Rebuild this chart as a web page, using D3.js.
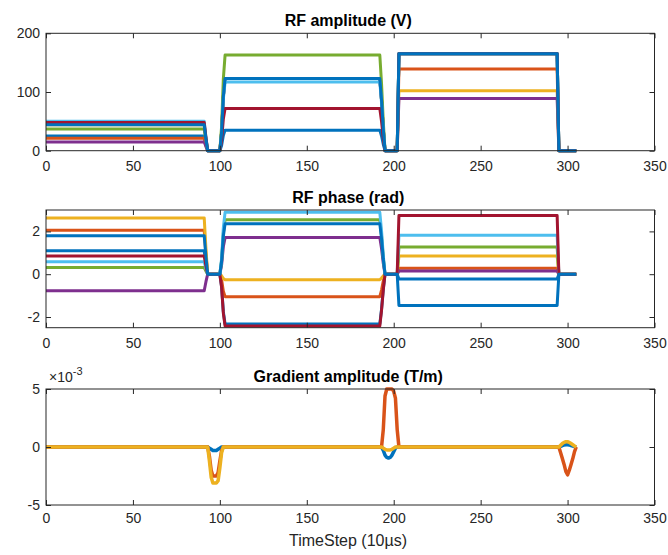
<!DOCTYPE html>
<html>
<head>
<meta charset="utf-8">
<script src="https://cdn.jsdelivr.net/npm/d3@7"></script>
<style>
  html, body { margin: 0; padding: 0; background: #ffffff; }
  svg { display: block; font-family: "Liberation Sans", Arial, sans-serif; }
</style>
</head>
<body>
<svg id="chart" width="668" height="555"></svg>
<script>
// ---- data ---------------------------------------------------------------
// Sample instants (time steps of 10 µs) at which the RF waveforms change
const timeSteps = [0, 91, 92, 93, 100, 101, 102, 103, 192, 193, 194, 195, 202, 203, 294, 295, 305];

// RF amplitude per transmit channel (V)
const rfAmp1 = [25, 25, 11, 0, 0, 9, 26, 35, 35, 25, 11, 0, 0, 165, 165, 0, 0];
const rfAmp2 = [21, 21, 9, 0, 0, 31, 92, 123, 123, 86, 37, 0, 0, 139, 139, 0, 0];
const rfAmp3 = [44, 44, 20, 0, 0, 31, 92, 123, 123, 86, 37, 0, 0, 102, 102, 0, 0];
const rfAmp4 = [15, 15, 7, 0, 0, 31, 92, 123, 123, 86, 37, 0, 0, 89, 89, 0, 0];
const rfAmp5 = [37, 37, 17, 0, 0, 41, 122, 163, 163, 114, 49, 0, 0, 165, 165, 0, 0];
const rfAmp6 = [50, 50, 22, 0, 0, 29, 88, 117, 117, 82, 35, 0, 0, 165, 165, 0, 0];
const rfAmp7 = [48, 48, 22, 0, 0, 18, 54, 72, 72, 50, 22, 0, 0, 165, 165, 0, 0];
const rfAmp8 = [44, 44, 20, 0, 0, 31, 92, 123, 123, 86, 37, 0, 0, 165, 165, 0, 0];

// RF phase per transmit channel (rad)
const rfPhase1 = [1.09, 1.09, 0.49, 0, 0, -0.58, -1.75, -2.33, -2.33, -1.63, -0.70, 0, 0, -0.23, -0.23, 0, 0];
const rfPhase2 = [2.05, 2.05, 0.92, 0, 0, -0.26, -0.79, -1.05, -1.05, -0.74, -0.32, 0, 0, 0.28, 0.28, 0, 0];
const rfPhase3 = [2.63, 2.63, 1.18, 0, 0, -0.07, -0.20, -0.26, -0.26, -0.18, -0.08, 0, 0, 0.85, 0.85, 0, 0];
const rfPhase4 = [-0.77, -0.77, -0.35, 0, 0, 0.43, 1.28, 1.71, 1.71, 1.20, 0.51, 0, 0, 0.15, 0.15, 0, 0];
const rfPhase5 = [0.31, 0.31, 0.14, 0, 0, 0.64, 1.91, 2.55, 2.55, 1.79, 0.77, 0, 0, 1.27, 1.27, 0, 0];
const rfPhase6 = [0.58, 0.58, 0.26, 0, 0, 0.72, 2.17, 2.89, 2.89, 2.02, 0.87, 0, 0, 1.82, 1.82, 0, 0];
const rfPhase7 = [0.85, 0.85, 0.38, 0, 0, -0.61, -1.82, -2.42, -2.42, -1.69, -0.73, 0, 0, 2.74, 2.74, 0, 0];
const rfPhase8 = [1.80, 1.80, 0.81, 0, 0, 0.59, 1.77, 2.36, 2.36, 1.65, 0.71, 0, 0, -1.46, -1.46, 0, 0];

// Gradient waveforms, in units of 1e-3 T/m
const gradTimes = [0, 93, 94, 95, 96, 97, 98, 99, 100, 101, 102,
                   193, 194, 195, 196, 197, 198, 199, 200, 201, 202, 203,
                   295, 296, 297, 298, 299, 300, 301, 302, 303, 304, 305];
const gradX = [0, 0, -0.1, -0.2, -0.3, -0.3, -0.3, -0.2, -0.1, 0, 0,
               0, -0.3, -0.7, -0.9, -0.95, -0.9, -0.7, -0.4, -0.1, 0, 0,
               0, 0.05, 0.12, 0.18, 0.2, 0.2, 0.18, 0.12, 0.08, 0.03, 0];
const gradY = [0, 0, -0.8, -2.0, -2.5, -2.5, -2.5, -2.2, -1.2, -0.3, 0,
               0, 1.5, 4.4, 5.0, 5.0, 5.0, 5.0, 4.8, 4.2, 1.5, 0,
               0, -0.5, -1.0, -1.5, -2.1, -2.4, -2.0, -1.5, -1.0, -0.4, 0];
const gradZ = [0, 0, -1.2, -2.6, -3.1, -3.1, -3.1, -2.9, -1.8, -0.5, 0,
               0, -0.1, -0.2, -0.25, -0.25, -0.25, -0.2, -0.1, 0, 0, 0,
               0, 0.15, 0.3, 0.4, 0.45, 0.45, 0.4, 0.3, 0.2, 0.08, 0];

// Axis ticks
const xTicks = [0, 50, 100, 150, 200, 250, 300, 350];
const ampTicks = [0, 100, 200];
const phaseTicks = [-2, 0, 2];
const gradTicks = [-5, 0, 5];

// Default line colour order
const palette = ["#0072BD", "#D95319", "#EDB120", "#7E2F8E", "#77AC30", "#4DBEEE", "#A2142F", "#0072BD"];

// ---- layout -------------------------------------------------------------
const svg = d3.select("#chart");
const left = 46, right = 654.5;
const axisColor = "#262626";

const x = d3.scaleLinear().domain([0, 350]).range([left, right]);

const panels = [
  { title: "RF amplitude (V)", top: 33.3, bottom: 150.7, domain: [0, 200], ticks: ampTicks,
    times: timeSteps, series: [rfAmp1, rfAmp2, rfAmp3, rfAmp4, rfAmp5, rfAmp6, rfAmp7, rfAmp8],
    colors: palette, width: 3, pad: 10 },
  { title: "RF phase (rad)", top: 210, bottom: 327.7, domain: [-2.5, 3], ticks: phaseTicks,
    times: timeSteps, series: [rfPhase1, rfPhase2, rfPhase3, rfPhase4, rfPhase5, rfPhase6, rfPhase7, rfPhase8],
    colors: palette, width: 3, pad: 10 },
  { title: "Gradient amplitude (T/m)", top: 389, bottom: 505, domain: [-5, 5], ticks: gradTicks,
    times: gradTimes, series: [gradX, gradY, gradZ],
    colors: palette.slice(0, 3), width: 3.5, pad: 8 }
];

const fmt = d => String(d);

panels.forEach((p, i) => {
  const y = d3.scaleLinear().domain(p.domain).range([p.bottom, p.top]);
  const g = svg.append("g");

  // data lines
  const line = d3.line()
    .x((d, k) => x(p.times[k]))
    .y(d => y(d));
  p.series.forEach((s, k) => {
    g.append("path")
      .attr("d", line(s))
      .attr("fill", "none")
      .attr("stroke", p.colors[k])
      .attr("stroke-width", p.width)
      .attr("stroke-linejoin", "round")
      .attr("stroke-linecap", "butt");
  });

  // axes (ticks pointing inward on all four sides)
  const styleAxis = sel => {
    sel.select(".domain").remove();
    sel.selectAll(".tick line").attr("stroke", axisColor);
    sel.selectAll(".tick text")
      .attr("fill", axisColor)
      .style("font-size", "14px")
      .style("font-family", "Liberation Sans, Arial, sans-serif");
  };

  g.append("g").attr("transform", `translate(0,${p.bottom})`)
    .call(d3.axisBottom(x).tickValues(xTicks).tickFormat(fmt).tickSizeInner(-5).tickSizeOuter(0).tickPadding(p.pad))
    .call(styleAxis);
  g.append("g").attr("transform", `translate(0,${p.top})`)
    .call(d3.axisTop(x).tickValues(xTicks).tickFormat("").tickSizeInner(-5).tickSizeOuter(0))
    .call(styleAxis);
  g.append("g").attr("transform", `translate(${left},0)`)
    .call(d3.axisLeft(y).tickValues(p.ticks).tickFormat(fmt).tickSizeInner(-5).tickSizeOuter(0).tickPadding(6))
    .call(styleAxis);
  g.append("g").attr("transform", `translate(${right},0)`)
    .call(d3.axisRight(y).tickValues(p.ticks).tickFormat("").tickSizeInner(-5).tickSizeOuter(0))
    .call(styleAxis);

  // box
  g.append("rect")
    .attr("x", left).attr("y", p.top)
    .attr("width", right - left).attr("height", p.bottom - p.top)
    .attr("fill", "none").attr("stroke", axisColor).attr("stroke-width", 1);

  // title
  g.append("text")
    .attr("x", (left + right) / 2 - 2)
    .attr("y", p.top - 7.5)
    .attr("text-anchor", "middle")
    .attr("fill", "#000")
    .style("font-size", "16px")
    .style("font-weight", "bold")
    .text(p.title);

  // exponent for the gradient axis
  if (i === 2) {
    const ex = g.append("text")
      .attr("x", 49).attr("y", 382)
      .attr("fill", axisColor)
      .style("font-size", "14px");
    ex.append("tspan").text("×10");
    ex.append("tspan").attr("dy", -7).style("font-size", "11px").text("-3");
  }
});

// x-axis label
svg.append("text")
  .attr("x", 348).attr("y", 545.5)
  .attr("text-anchor", "middle")
  .attr("fill", axisColor)
  .style("font-size", "16px")
  .text("TimeStep (10µs)");
</script>
</body>
</html>
